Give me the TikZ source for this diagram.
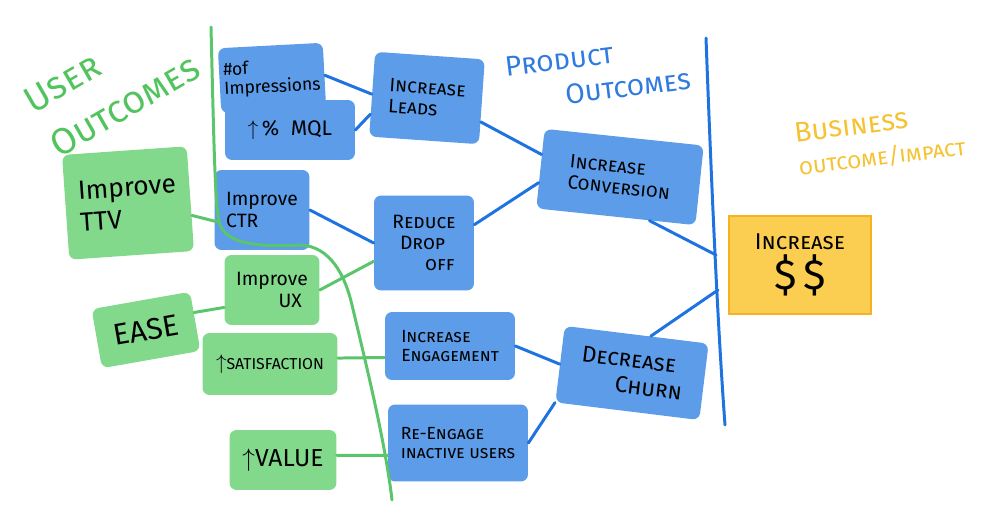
\documentclass[tikz,border=0pt]{standalone}
\usepackage{fontspec}
\setmainfont{Fira Sans}
\usetikzlibrary{positioning}
\definecolor{prodblue}{RGB}{92,156,232}
\definecolor{linkblue}{RGB}{30,115,225}
\definecolor{usergreen}{RGB}{130,217,140}
\definecolor{linkgreen}{RGB}{90,197,106}
\definecolor{bizyellow}{RGB}{251,205,80}
\definecolor{bizorange}{RGB}{245,178,35}
\definecolor{headgreen}{RGB}{82,196,94}
\definecolor{headblue}{RGB}{47,123,224}
\definecolor{headorange}{RGB}{245,194,50}

\begin{document}
\begin{tikzpicture}[x=0.02cm,y=-0.02cm,
  prod/.style={fill=prodblue,rounded corners=4pt,inner sep=2pt},
  user/.style={fill=usergreen,rounded corners=4pt,inner sep=2pt},
  blink/.style={draw=linkblue,line width=1.7pt,line cap=round},
  glink/.style={draw=linkgreen,line width=1.7pt,line cap=round}]
\tikzstyle{every node}=[font=\fontsize{11}{12}\selectfont\scshape,align=left]
\useasboundingbox (0,0) rectangle (1000,526);

\node[text=headgreen,font=\fontsize{21}{29}\selectfont\scshape,rotate=30] (userhead) at (112,84) {User\\Outcomes};
\node[text=headblue,font=\fontsize{16}{20}\selectfont\scshape,rotate=7] (prodhead) at (598,73) {Product\\\hspace*{2em}Outcomes};
\node[text=headorange,font=\fontsize{16}{19}\selectfont\scshape,rotate=7] (bizhead) at (880,140) {Business\\{\fontsize{13}{15}\selectfont outcome/impact}};

\node[prod,minimum width=2.6cm,minimum height=1.2cm,font=\fontsize{12}{13}\selectfont] (mql) at (290,130) {$\uparrow$\,\%\; MQL};
\node[prod,minimum width=2.1cm,minimum height=1.3cm,font=\fontsize{10}{11}\selectfont,rotate=3] (imp) at (272,78) {\#of\\Impressions};
\node[prod,minimum width=2.2cm,minimum height=1.7cm,rotate=-4] (leads) at (427,98) {Increase\\Leads};
\node[prod,minimum width=1.9cm,minimum height=1.6cm,font=\fontsize{11}{12}\selectfont] (ctr) at (262,210) {Improve\\CTR};
\node[prod,minimum width=2.0cm,minimum height=1.9cm] (drop) at (424,243) {Reduce\\\hspace*{0.4em}Drop\\\hspace*{1.7em}off};
\node[prod,minimum width=3.2cm,minimum height=1.6cm,rotate=-6] (conv) at (620,177) {Increase\\Conversion};
\node[prod,minimum width=2.6cm,minimum height=1.36cm,font=\fontsize{10}{11}\selectfont\scshape] (eng) at (450,346) {Increase\\Engagement};
\node[prod,minimum width=2.8cm,minimum height=1.54cm,font=\fontsize{10}{11}\selectfont\scshape] (reeng) at (458,443) {Re-Engage\\inactive users};
\node[prod,minimum width=2.9cm,minimum height=1.54cm,font=\fontsize{13}{15}\selectfont\scshape,rotate=-7] (churn) at (632,373) {Decrease\\\hspace*{1.6em}Churn};

\node[user,minimum width=2.5cm,minimum height=2.1cm,font=\fontsize{15}{18}\selectfont,rotate=4] (ttv) at (128,203) {Improve\\TTV};
\node[user,minimum width=1.9cm,minimum height=1.4cm,font=\fontsize{11}{12}\selectfont] (ux) at (272,290) {Improve\\\hspace*{2.2em}UX};
\node[user,minimum width=2.0cm,minimum height=1.2cm,font=\fontsize{17}{18}\selectfont,rotate=10] (ease) at (146,330) {EASE};
\node[user,minimum width=2.7cm,minimum height=1.24cm,font=\fontsize{9}{10}\selectfont] (sat) at (270,364) {{\large$\uparrow$}SATISFACTION};
\node[user,minimum width=2.14cm,minimum height=1.2cm,font=\fontsize{14}{15}\selectfont] (value) at (283,460) {$\uparrow$VALUE};

\node[fill=bizyellow,draw=bizorange,line width=1.2pt,minimum width=2.84cm,minimum height=1.96cm,font=\fontsize{13}{15}\selectfont\scshape,align=center] (money) at (800,265) {Increase\\[2pt]{\fontsize{24}{26}\selectfont\$\,\$}};

\draw[glink] (211,27) .. controls (214,150) and (215,200) .. (219,222) .. controls (225,245) and (260,247) .. (300,245) .. controls (330,246) and (345,275) .. (352,305) .. controls (365,360) and (385,440) .. (392,500);
\draw[blink] (706,38) .. controls (712,200) and (718,330) .. (725,425);
\coordinate (gl) at (218,222);
\coordinate (bl1) at (716,255);
\coordinate (bl2) at (718,290);

\draw[blink] (imp.east) -- (leads.west);
\draw[blink] (mql.east) -- (leads.200);
\draw[blink] (leads.-20) -- (conv.170);
\draw[blink] (ctr.east) -- (drop.west);
\draw[blink] (drop.20) -- (conv.190);
\draw[blink] (conv.-50) -- (bl1);
\draw[blink] (churn.70) -- (bl2);
\draw[blink] (eng.east) -- (churn.west);
\draw[blink] (reeng.east) -- (churn.south west);

\draw[glink] (ttv.-15) -- (gl);
\draw[glink] (ux.east) -- (drop.200);
\draw[glink] (ease.10) -- (ux.200);
\draw[glink] (sat.5) -- (eng.190);
\draw[glink] (value.5) -- (reeng.190);
\end{tikzpicture}
\end{document}
